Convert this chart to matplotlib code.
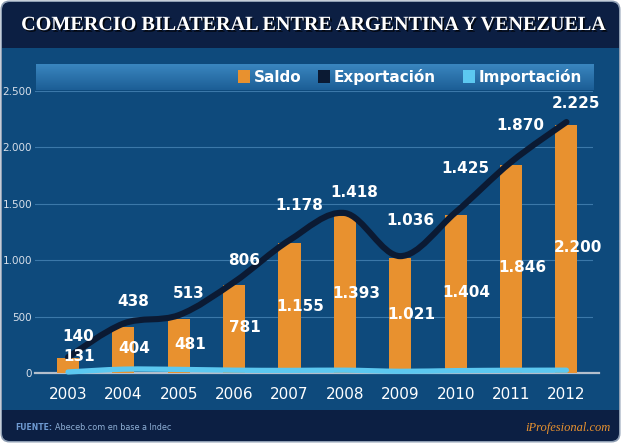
import matplotlib
matplotlib.use("Agg")
import matplotlib.pyplot as plt
import numpy as np
from matplotlib.patches import FancyBboxPatch, Rectangle, PathPatch
from matplotlib.path import Path
import matplotlib.patheffects as pe

# datos (millones de US$)
anios = [2003, 2004, 2005, 2006, 2007, 2008, 2009, 2010, 2011, 2012]
saldo = [131, 404, 481, 781, 1155, 1393, 1021, 1404, 1846, 2200]
exportacion = [140, 438, 513, 806, 1178, 1418, 1036, 1425, 1870, 2225]
importacion = [9, 34, 32, 25, 23, 25, 15, 21, 24, 25]
yticks = [0, 500, 1000, 1500, 2000, 2500]

# desplazamiento vertical (px) de las etiquetas de exportacion
exp_lab_dy = [21, 22, 22, 22, 35, 21, 36, 44, 37, 19]

W, H = 621, 443
C_TOP = "#0c1f43"
C_MAIN = "#0e4a7c"
C_BAR = "#e8912f"
C_EXP = "#0b1a33"
C_IMP = "#5cc8f0"

fig = plt.figure(figsize=(W / 100, H / 100), dpi=100)
fig.patch.set_facecolor("white")

# fondo en coordenadas de pixel
bg = fig.add_axes([0, 0, 1, 1], zorder=0)
bg.set_xlim(0, W)
bg.set_ylim(H, 0)
bg.axis("off")
bg.add_patch(FancyBboxPatch((0.5, 0.5), W - 1, H - 1, boxstyle="round,pad=0,rounding_size=9",
                            fc="#8d9db2", ec="none"))
bg.add_patch(FancyBboxPatch((2, 2), W - 4, H - 4, boxstyle="round,pad=0,rounding_size=8",
                            fc=C_TOP, ec="none"))
bg.add_patch(Rectangle((2, 48), W - 4, 362, fc=C_MAIN, ec="none"))

# banda de la leyenda con degradado
grad = np.linspace(0, 1, 50).reshape(-1, 1)
cmap = matplotlib.colors.LinearSegmentedColormap.from_list("b", ["#3a86bf", "#1c5e96"])
bg.imshow(grad, cmap=cmap, extent=(36, 594, 90, 64), aspect="auto", zorder=1)
bg.set_xlim(0, W)
bg.set_ylim(H, 0)

leg = [("Saldo", C_BAR, 238), ("Exportación", C_EXP, 318), ("Importación", C_IMP, 463)]
for name, col, x0 in leg:
    bg.add_patch(Rectangle((x0, 70), 12, 13, fc=col, ec="none", zorder=2))
    bg.text(x0 + 16, 77, name, color="white", fontsize=11, fontweight="bold",
            va="center", ha="left", zorder=3)

# titulo
bg.text(313, 25, "COMERCIO BILATERAL ENTRE ARGENTINA Y VENEZUELA", color="white",
        fontsize=14.5, fontweight="bold", family="Liberation Serif", ha="center", va="center",
        path_effects=[pe.withSimplePatchShadow(offset=(1.2, -1.2), shadow_rgbFace="black", alpha=0.8)])

# pie
bg.text(15, 428, "FUENTE:", color="#6f9bd3", fontsize=5.5, fontweight="bold", va="center")
bg.text(55, 428, "Abeceb.com en base a Indec", color="#8fb0d6", fontsize=5.8, va="center")
bg.text(611, 428, "iProfesional.com", color=C_BAR, fontsize=9, style="italic",
        family="Liberation Serif", ha="right", va="center")

# grafico
ax = fig.add_axes([35 / W, (H - 373) / H, 558 / W, 282 / H], zorder=1)
ax.set_facecolor("none")
x = np.arange(len(anios))
ax.set_xlim(-0.596, 9.48)
ax.set_ylim(0, 2500)
for s in ax.spines.values():
    s.set_visible(False)
for v in yticks[1:]:
    ax.axhline(v, color="#3b78a9", lw=0.8, zorder=1)
ax.axhline(0, color="#b4bfcc", lw=1.6, zorder=1, xmax=1.01, clip_on=False)

ax.bar(x, saldo, width=0.4, color=C_BAR, zorder=2)


def smooth_path(xs, ys):
    pts = np.column_stack([xs, ys]).astype(float)
    ext = np.vstack([pts[0], pts, pts[-1]])
    verts = [pts[0]]
    codes = [Path.MOVETO]
    for i in range(len(pts) - 1):
        p0, p1, p2, p3 = ext[i], ext[i + 1], ext[i + 2], ext[i + 3]
        verts += [p1 + (p2 - p0) / 6, p2 - (p3 - p1) / 6, p2]
        codes += [Path.CURVE4] * 3
    return Path(verts, codes)


ax.add_patch(PathPatch(smooth_path(x, exportacion), fill=False, ec=C_EXP, lw=4.4,
                       capstyle="round", joinstyle="round", zorder=3))
ax.add_patch(PathPatch(smooth_path(x, importacion), fill=False, ec=C_IMP, lw=3.8,
                       capstyle="round", joinstyle="round", zorder=4, clip_on=False))


def fmt(v):
    return f"{v:,}".replace(",", ".")


lab_kw = dict(color="white", fontsize=11, fontweight="bold", ha="center", va="center",
              textcoords="offset points", zorder=5)
for i, v in enumerate(exportacion):
    ax.annotate(fmt(v), (x[i], v), xytext=(7, exp_lab_dy[i] * 0.72), **lab_kw)
for i, v in enumerate(saldo):
    yl = v if v < 200 else v / 2
    ax.annotate(fmt(v), (x[i], yl), xytext=(8, 1), **lab_kw)

ax.set_yticks(yticks)
ax.set_yticklabels([fmt(v) for v in yticks])
ax.set_xticks(x)
ax.set_xticklabels([str(a) for a in anios])
ax.tick_params(axis="y", length=0, pad=2, labelsize=7.5, labelcolor="#d8e0ea")
ax.tick_params(axis="x", length=0, pad=10, labelsize=11, labelcolor="white")

fig.savefig("out.png", dpi=100, facecolor=fig.get_facecolor())
